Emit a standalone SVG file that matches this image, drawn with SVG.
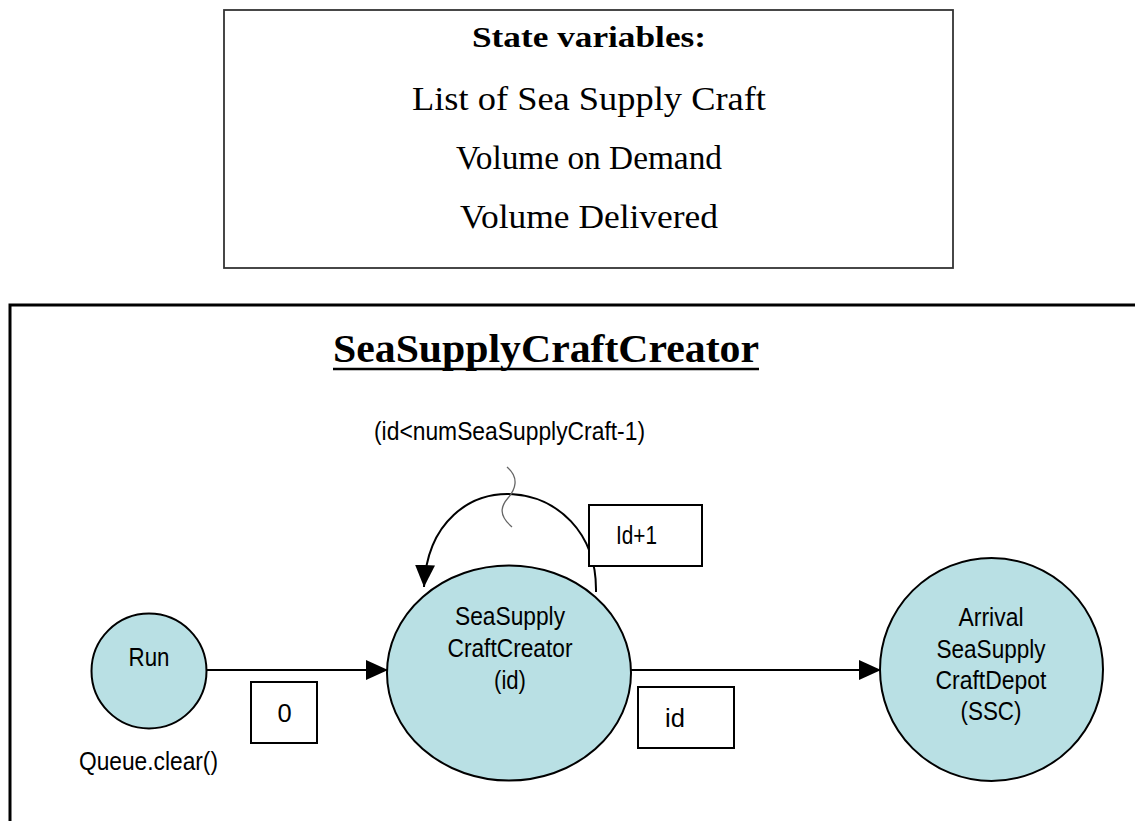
<svg xmlns="http://www.w3.org/2000/svg" width="1135" height="821" viewBox="0 0 1135 821">
<style>
.serif{font-family:"Liberation Serif","Times New Roman",serif;fill:#000}
.sans{font-family:"Liberation Sans",Arial,sans-serif;font-size:25.5px;fill:#000}
.node{fill:#b9e0e4;stroke:#000;stroke-width:2}
.lbl{fill:#fff;stroke:#000;stroke-width:2}
.conn{fill:none;stroke:#000;stroke-width:2}
</style>
<defs>
<marker id="arr" markerUnits="userSpaceOnUse" viewBox="0 0 22 20" refX="22" refY="10" markerWidth="22" markerHeight="20" orient="auto">
<path d="M0,0 L22,10 L0,20 z" fill="#000"/>
</marker>
</defs>
<rect width="1135" height="821" fill="#fff"/>
<g id="state-vars">
<rect x="224" y="10" width="729" height="258" fill="#fff" stroke="#333" stroke-width="1.8"/>
<text class="serif" x="589" y="47" font-size="30" font-weight="bold" text-anchor="middle" textLength="234" lengthAdjust="spacingAndGlyphs">State variables:</text>
<text class="serif" x="589" y="110" font-size="34" text-anchor="middle" textLength="354" lengthAdjust="spacingAndGlyphs">List of Sea Supply Craft</text>
<text class="serif" x="589" y="169" font-size="34" text-anchor="middle" textLength="266" lengthAdjust="spacingAndGlyphs">Volume on Demand</text>
<text class="serif" x="589" y="228" font-size="34" text-anchor="middle" textLength="258" lengthAdjust="spacingAndGlyphs">Volume Delivered</text>
</g>
<g id="frame">
<rect x="10" y="305" width="1140" height="530" fill="#fff" stroke="#000" stroke-width="3"/>
<text class="serif" x="333" y="362" font-size="40" font-weight="bold" textLength="426" lengthAdjust="spacingAndGlyphs">SeaSupplyCraftCreator</text>
<line x1="333" y1="369" x2="759" y2="369" stroke="#000" stroke-width="2.5"/>
</g>
<g id="connectors">
<line class="conn" x1="206" y1="670" x2="388" y2="670" marker-end="url(#arr)"/>
<line class="conn" x1="631" y1="670" x2="881" y2="670" marker-end="url(#arr)"/>
<path class="conn" d="M596,592 C598,470 430,455 424,587" marker-end="url(#arr)"/>
<path d="M507,467 C520,478 515,490 508,498 S498,515 512,527" fill="none" stroke="#666" stroke-width="1.3"/>
<text class="sans" x="374" y="440" textLength="271" lengthAdjust="spacingAndGlyphs">(id&lt;numSeaSupplyCraft-1)</text>
<g id="label-id1">
<rect class="lbl" x="589" y="505" width="113" height="61"/>
<text class="sans" x="616" y="544" textLength="41" lengthAdjust="spacingAndGlyphs">Id+1</text>
</g>
<g id="label-0">
<rect class="lbl" x="251" y="682" width="66" height="61"/>
<text class="sans" x="284.5" y="722" text-anchor="middle">0</text>
</g>
<g id="label-id">
<rect class="lbl" x="638" y="687" width="96" height="61"/>
<text class="sans" x="665" y="727">id</text>
</g>
</g>
<g id="node-run">
<circle class="node" cx="149" cy="671" r="57.5"/>
<text class="sans" x="149" y="666" text-anchor="middle" textLength="41" lengthAdjust="spacingAndGlyphs">Run</text>
<text class="sans" x="79" y="770" textLength="139" lengthAdjust="spacingAndGlyphs">Queue.clear()</text>
</g>
<g id="node-creator">
<ellipse class="node" cx="509" cy="673" rx="122" ry="107.5"/>
<text class="sans" x="510" y="625" text-anchor="middle" textLength="110" lengthAdjust="spacingAndGlyphs">SeaSupply</text>
<text class="sans" x="510" y="657" text-anchor="middle" textLength="125" lengthAdjust="spacingAndGlyphs">CraftCreator</text>
<text class="sans" x="510" y="689" text-anchor="middle" textLength="32" lengthAdjust="spacingAndGlyphs">(id)</text>
</g>
<g id="node-arrival">
<circle class="node" cx="991.5" cy="669.5" r="111.5"/>
<text class="sans" x="991" y="626" text-anchor="middle" textLength="65" lengthAdjust="spacingAndGlyphs">Arrival</text>
<text class="sans" x="991" y="658" text-anchor="middle" textLength="109" lengthAdjust="spacingAndGlyphs">SeaSupply</text>
<text class="sans" x="991" y="689" text-anchor="middle" textLength="111" lengthAdjust="spacingAndGlyphs">CraftDepot</text>
<text class="sans" x="991" y="720" text-anchor="middle" textLength="61" lengthAdjust="spacingAndGlyphs">(SSC)</text>
</g>
</svg>
